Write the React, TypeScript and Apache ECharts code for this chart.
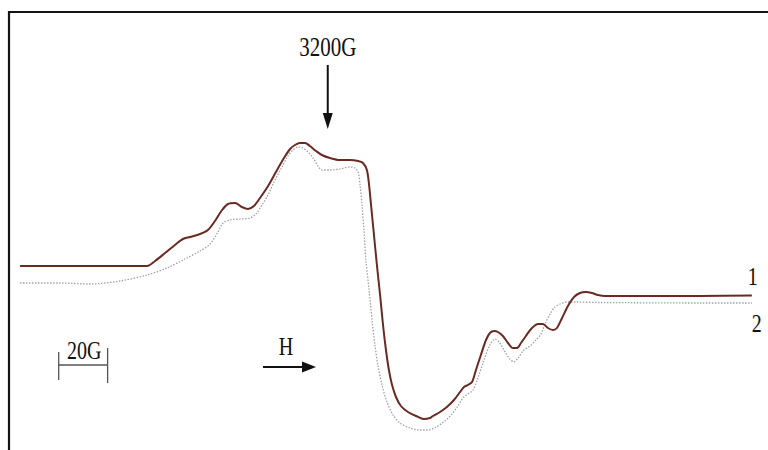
import React, { useEffect, useRef } from "react";
import * as echarts from "echarts";

// Magnetic field (G) and derivative EPR signal (arbitrary units)
const field1 = [
  3074.2, 3090.5, 3106.9, 3126.1, 3129.4, 3133.5, 3137.5, 3140.8, 3143.7, 3147.8,
  3151.0, 3153.9, 3156.8, 3159.2, 3162.1, 3164.9, 3167.4, 3169.8, 3172.3, 3175.6,
  3178.8, 3182.1, 3184.6, 3186.6, 3188.6, 3190.7, 3192.7, 3195.2, 3197.6, 3200.9,
  3205.0, 3209.1, 3212.4, 3214.4, 3216.0, 3216.9, 3217.7, 3218.9, 3220.1, 3221.4,
  3222.6, 3223.8, 3225.0, 3226.3, 3227.9, 3229.9, 3232.8, 3236.1, 3239.3, 3241.8,
  3243.0, 3245.9, 3248.7, 3251.6, 3254.1, 3255.7, 3257.3, 3259.0, 3260.6, 3262.6,
  3264.7, 3266.3, 3268.0, 3269.6, 3271.6, 3273.7, 3275.7, 3277.4, 3279.0, 3281.0,
  3283.5, 3286.0, 3288.0, 3290.0, 3292.1, 3293.7, 3295.8, 3298.2, 3300.7, 3303.1,
  3305.6, 3308.0, 3310.5, 3313.3, 3327.7, 3352.2, 3373.4,
];
const signal1 = [
  0, 0, 0, 0, 5, 13, 21, 27, 29, 32,
  36, 45, 56, 62, 63, 59, 57, 60, 68, 80,
  94, 108, 117, 121, 123, 123, 120, 115, 111, 108,
  106, 106, 105, 103, 96, 81, 61, 31, 1, -29,
  -59, -84, -104, -119, -131, -140, -146, -150, -153, -152,
  -150, -146, -141, -134, -126, -121, -119, -116, -104, -89,
  -74, -67, -65, -66, -70, -77, -82, -82, -77, -70,
  -62, -58, -58, -62, -64, -62, -52, -40, -31, -27,
  -26, -27, -29, -30, -30, -30, -29.5,
];

const field2 = [
  3074.2, 3090.5, 3102.8, 3115.1, 3126.1, 3134.3, 3141.6, 3147.8, 3151.9, 3155.1,
  3157.2, 3160.0, 3164.1, 3168.2, 3170.7, 3173.1, 3175.6, 3178.4, 3181.3, 3183.7,
  3185.8, 3187.8, 3189.9, 3191.9, 3194.0, 3196.0, 3197.6, 3200.9, 3205.0, 3209.1,
  3211.1, 3212.4, 3213.2, 3214.0, 3214.8, 3215.6, 3216.9, 3218.1, 3219.3, 3220.5,
  3222.2, 3224.2, 3226.7, 3229.5, 3233.6, 3237.7, 3241.0, 3244.3, 3247.9, 3250.8,
  3253.2, 3255.3, 3257.3, 3259.4, 3261.4, 3263.9, 3266.3, 3268.4, 3270.4, 3272.5,
  3274.5, 3276.1, 3277.8, 3280.2, 3282.7, 3285.1, 3287.2, 3288.8, 3290.9, 3292.9,
  3295.0, 3297.8, 3301.1, 3311.3, 3352.2, 3373.4,
];
const signal2 = [
  -17, -17, -18, -15, -9, -2, 7, 15, 22, 34,
  43, 46, 47, 48, 52, 61, 71, 86, 99, 110,
  116, 119, 118, 114, 108, 100, 96, 96, 97, 99,
  98, 94, 81, 61, 36, 6, -24, -54, -79, -99,
  -119, -136, -149, -157, -162, -164, -164, -161, -155, -148,
  -140, -132, -128, -124, -112, -94, -79, -73, -77, -86,
  -93, -96, -92, -84, -80, -74, -68, -58, -48, -41,
  -38, -36, -36, -36.5, -37, -37,
];

// Annotations
const centerField = 3200; // G
const centerLabel = "3200G";
const scaleBarStart = 3090; // G
const scaleBarEnd = 3110; // G
const scaleBarLabel = "20G";
const fieldLabel = "H";
const curveLabels = ["1", "2"];

const FONT = '"Liberation Serif", "Times New Roman", serif';
const INK = "#111111";

function serifText(x: number, y: number, text: string, size = 21, sy = 1.3) {
  return {
    type: "text",
    x,
    y,
    scaleY: sy,
    silent: true,
    style: {
      text,
      fill: INK,
      font: `${size}px ${FONT}`,
      textAlign: "center",
      textVerticalAlign: "middle",
      align: "center",
      verticalAlign: "middle",
    },
  };
}

export default function App() {
  const ref = useRef<HTMLDivElement>(null);

  useEffect(() => {
    if (!ref.current) return;
    const chart = echarts.init(ref.current, null, { renderer: "svg" });

    const pairs = (xs: number[], ys: number[]) => xs.map((x, i) => [x, ys[i]]);

    chart.setOption({
      animation: false,
      backgroundColor: "#ffffff",
      grid: { left: 0, right: 0, top: 0, bottom: 0 },
      xAxis: { type: "value", min: 3066, max: 3380, show: false },
      yAxis: { type: "value", min: -184, max: 266, show: false },
      series: [
        {
          type: "line",
          name: "2",
          data: pairs(field2, signal2),
          showSymbol: false,
          smooth: 0.3,
          lineStyle: { color: "#9ea3a8", width: 1.3, type: [1.5, 1.5] },
          z: 2,
        },
        {
          type: "line",
          name: "1",
          data: pairs(field1, signal1),
          showSymbol: false,
          smooth: 0.3,
          lineStyle: { color: "#6a2a22", width: 2 },
          z: 3,
        },
      ],
    });

    const px = (v: number) => chart.convertToPixel({ xAxisIndex: 0 }, v) as number;
    const pt = (x: number, y: number) =>
      chart.convertToPixel({ gridIndex: 0 }, [x, y]) as number[];

    const xc = px(centerField);
    const sb0 = px(scaleBarStart);
    const sb1 = px(scaleBarEnd);
    const end1 = pt(field1[field1.length - 1], signal1[signal1.length - 1]);
    const end2 = pt(field2[field2.length - 1], signal2[signal2.length - 1]);

    chart.setOption({
      graphic: [
        // frame
        {
          type: "polyline",
          silent: true,
          shape: { points: [[9, 452], [9, 12], [770, 12]] },
          style: { stroke: "#151515", lineWidth: 2.2, fill: null },
        },
        // 3200G marker arrow
        serifText(xc, 46, centerLabel, 21, 1.35),
        {
          type: "line",
          silent: true,
          shape: { x1: xc, y1: 65, x2: xc, y2: 116 },
          style: { stroke: INK, lineWidth: 2 },
        },
        {
          type: "polygon",
          silent: true,
          shape: { points: [[xc - 5, 113], [xc, 129], [xc + 5, 113]] },
          style: { fill: INK },
        },
        // 20G scale bar
        serifText((sb0 + sb1) / 2 + 1, 350, scaleBarLabel, 20, 1.3),
        {
          type: "line",
          silent: true,
          shape: { x1: sb0, y1: 365, x2: sb1, y2: 365 },
          style: { stroke: "#555555", lineWidth: 1.3 },
        },
        {
          type: "line",
          silent: true,
          shape: { x1: sb0, y1: 352, x2: sb0, y2: 380 },
          style: { stroke: "#555555", lineWidth: 1.3 },
        },
        {
          type: "line",
          silent: true,
          shape: { x1: sb1, y1: 348, x2: sb1, y2: 383 },
          style: { stroke: "#555555", lineWidth: 1.3 },
        },
        // field direction arrow
        serifText(286, 347, fieldLabel, 20, 1.25),
        {
          type: "line",
          silent: true,
          shape: { x1: 263, y1: 367, x2: 305, y2: 367 },
          style: { stroke: INK, lineWidth: 2.2 },
        },
        {
          type: "polygon",
          silent: true,
          shape: { points: [[302, 361.5], [316, 367], [302, 372.5]] },
          style: { fill: INK },
        },
        // curve labels
        serifText(end1[0] + 1, end1[1] - 19, curveLabels[0], 20, 1.25),
        serifText(end2[0] + 5, end2[1] + 21, curveLabels[1], 20, 1.25),
      ],
    });

    return () => chart.dispose();
  }, []);

  return (
    <div
      style={{
        position: "absolute",
        left: 0,
        top: 0,
        width: 768,
        height: 450,
        background: "#ffffff",
        overflow: "hidden",
      }}
    >
      <div ref={ref} style={{ width: 768, height: 450 }} />
    </div>
  );
}
